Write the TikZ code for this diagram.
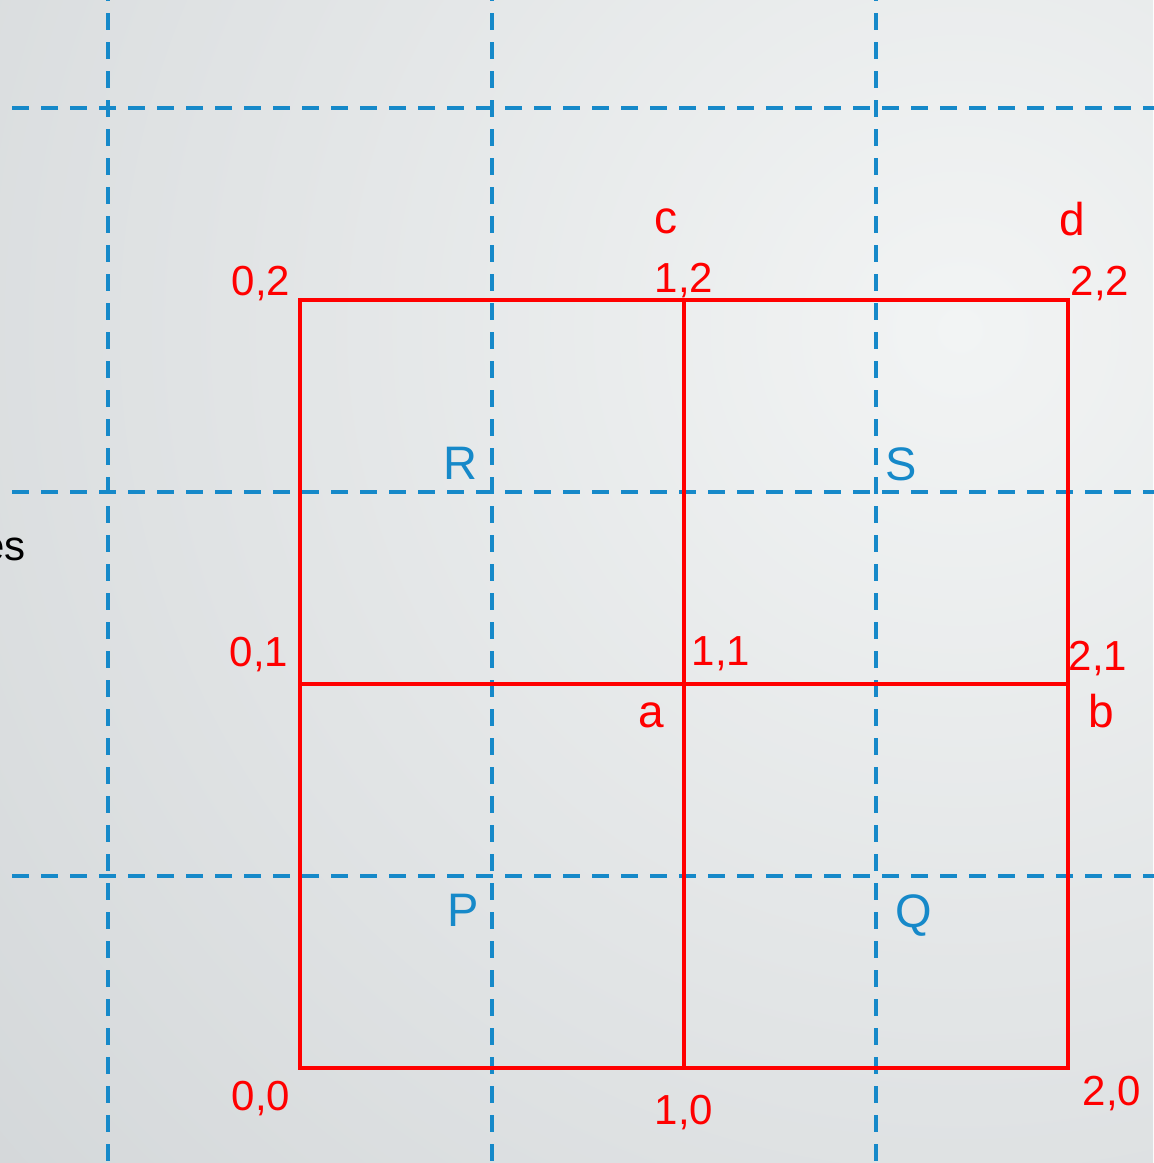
\documentclass[tikz,border=0pt]{standalone}
\usepackage{fontspec}
\setmainfont{Liberation Sans}
\definecolor{gridred}{RGB}{255,0,0}
\definecolor{guideblue}{RGB}{22,137,201}
\definecolor{bglight}{RGB}{242,244,244}
\definecolor{bgdark}{RGB}{184,189,193}
\begin{document}
\begin{tikzpicture}[x=0.5pt,y=-0.5pt,
  gridline/.style={draw=gridred, line width=2pt},
  guide/.style={draw=guideblue, line width=2pt, dash pattern=on 8.5pt off 6pt},
  coordlbl/.style={text=gridred, font=\fontsize{21}{24}\selectfont, inner sep=0pt, anchor=base},
  ptlbl/.style={text=gridred, font=\fontsize{23}{26}\selectfont, inner sep=0pt, anchor=base},
  celllbl/.style={text=guideblue, font=\fontsize{23.5}{26}\selectfont, inner sep=0pt, anchor=base}]
\useasboundingbox (0,0) rectangle (1153,1163);
\begin{scope}
  \clip (0,0) rectangle (1153,1163);
  \shade[inner color=bglight, outer color=bgdark] (960,330) circle (2500);
\end{scope}
% blue dashed guides
\foreach \v in {108,492,876} {
  \draw[guide] (\v,-16) -- (\v,1175);
  \draw[guide] (-17,\v) -- (1165,\v);
}
% red grid corners
\coordinate (p00) at (300,1068);
\coordinate (p10) at (684,1068);
\coordinate (p20) at (1068,1068);
\coordinate (p01) at (300,684);
\coordinate (p11) at (684,684);
\coordinate (p21) at (1068,684);
\coordinate (p02) at (300,300);
\coordinate (p12) at (684,300);
\coordinate (p22) at (1068,300);
\draw[gridline] (p00) -- (p20) -- (p22) -- (p02) -- cycle;
\draw[gridline] (p10) -- (p12);
\draw[gridline] (p01) -- (p21);
% labels
\node[coordlbl] (l02) at (261,295) {0,2};
\node[coordlbl] (l12) at (684,292) {1,2};
\node[coordlbl] (l22) at (1100,295) {2,2};
\node[coordlbl] (l01) at (259,666) {0,1};
\node[coordlbl] (l11) at (721,665) {1,1};
\node[coordlbl] (l21) at (1098,670) {2,1};
\node[coordlbl] (l00) at (261,1110) {0,0};
\node[coordlbl] (l10) at (684,1124) {1,0};
\node[coordlbl] (l20) at (1112,1105) {2,0};
\node[ptlbl] (ptc) at (666,233) {c};
\node[ptlbl] (ptd) at (1072,235) {d};
\node[ptlbl] (pta) at (651,727) {a};
\node[ptlbl] (ptb) at (1101,727) {b};
\node[celllbl] (cR) at (460,479) {R};
\node[celllbl] (cS) at (901,480) {S};
\node[celllbl] (cP) at (463,926) {P};
\node[celllbl] (cQ) at (914,927) {Q};
\node[text=black, font=\fontsize{21}{24}\selectfont, inner sep=0pt, anchor=base east] (es) at (26,560) {es};
\end{tikzpicture}
\end{document}
